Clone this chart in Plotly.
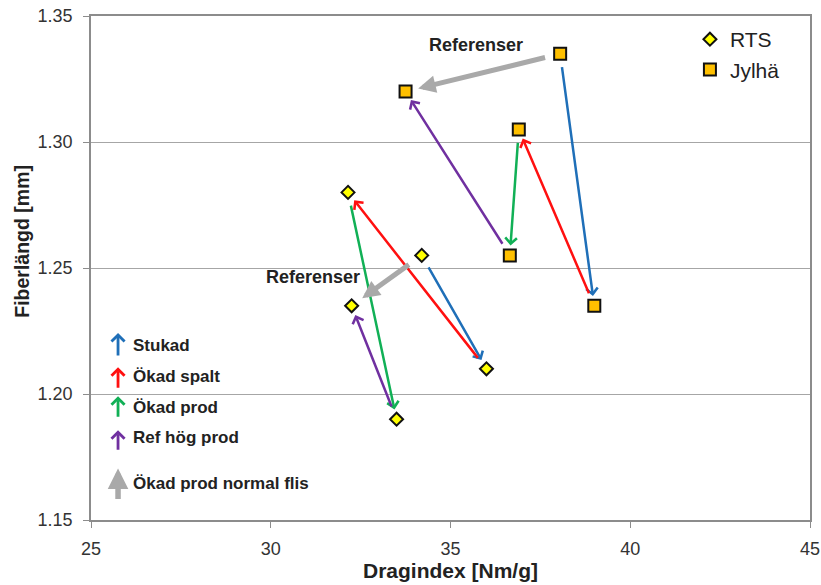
import plotly.graph_objects as go

# Measured points: Dragindex [Nm/g] vs fibre length [mm]
rts_x = [32.15, 34.2, 32.25, 36.0, 33.5]
rts_y = [1.28, 1.255, 1.235, 1.21, 1.19]
jyl_x = [38.05, 33.75, 36.9, 36.65, 39.0]
jyl_y = [1.335, 1.32, 1.305, 1.255, 1.235]

# Process changes, as (from index, to index) within each series
change_names = ["Stukad", "Ökad spalt", "Ökad prod", "Ref hög prod", "Ökad prod normal flis"]
change_colors = ["#1F6FB8", "#FF1010", "#11B056", "#7030A0", "#A9A9A9"]
rts_moves = [(1, 3), (3, 0), (0, 4), (4, 2), (1, 2)]
jyl_moves = [(0, 4), (4, 2), (2, 3), (3, 1), (0, 1)]

x_ticks = [25, 30, 35, 40, 45]
y_ticks = [1.15, 1.20, 1.25, 1.30, 1.35]

FONT = "Liberation Sans, Arial, sans-serif"

fig = go.Figure()

fig.add_trace(go.Scatter(
    x=rts_x, y=rts_y, mode="markers", name="RTS", legendgroup="a",
    marker=dict(symbol="diamond", size=10, color="#FFFF00",
                line=dict(color="#111111", width=2)),
))
fig.add_trace(go.Scatter(
    x=jyl_x, y=jyl_y, mode="markers", name="Jylhä", legendgroup="b",
    marker=dict(symbol="square", size=12, color="#FFC000",
                line=dict(color="#111111", width=2)),
))

annotations = []


def add_moves(xs, ys, moves):
    for k, (i, j) in enumerate(moves):
        gray = k == 4
        annotations.append(dict(
            x=xs[j], y=ys[j], ax=xs[i], ay=ys[i],
            xref="x", yref="y", axref="x", ayref="y",
            text="", showarrow=True,
            arrowcolor=change_colors[k],
            arrowwidth=5 if gray else 2.5,
            arrowhead=2 if gray else 4,
            arrowsize=0.7 if gray else 0.9,
            standoff=13 if gray else 10,
            startstandoff=14 if gray else 12,
        ))


add_moves(rts_x, rts_y, rts_moves)
add_moves(jyl_x, jyl_y, jyl_moves)

# Labels for the reference moves
annotations.append(dict(x=35.7, y=1.3385, xref="x", yref="y", text="<b>Referenser</b>",
                        showarrow=False, font=dict(family=FONT, size=18, color="#222222")))
annotations.append(dict(x=31.18, y=1.2465, xref="x", yref="y", text="<b>Referenser</b>",
                        showarrow=False, font=dict(family=FONT, size=18, color="#222222")))

# Key for the arrow colours
key_tip_y = [0.371, 0.303, 0.2455, 0.178, 0.1024]
key_tail = [24, 22, 22, 21, 32]
key_text_y = [0.347, 0.285, 0.2237, 0.164, 0.0726]
for k, name in enumerate(change_names):
    gray = k == 4
    annotations.append(dict(
        x=0.0376, y=key_tip_y[k], xref="paper", yref="paper",
        ax=0, ay=key_tail[k], text="", showarrow=True,
        arrowcolor=change_colors[k],
        arrowwidth=5.5 if gray else 2.8,
        arrowhead=2 if gray else 4,
        arrowsize=0.75 if gray else 0.9,
    ))
    annotations.append(dict(
        x=0.056, y=key_text_y[k], xref="paper", yref="paper",
        xanchor="left", yanchor="middle", text=f"<b>{name}</b>",
        showarrow=False, font=dict(family=FONT, size=17, color="#222222"),
    ))

# Vertical axis title
annotations.append(dict(
    x=-0.096, y=0.554, xref="paper", yref="paper", textangle=-90,
    xanchor="center", yanchor="middle",
    text="<b>Fiberlängd [mm]</b>", showarrow=False,
    font=dict(family=FONT, size=19.5, color="#222222"),
))

fig.update_layout(
    width=821, height=585,
    margin=dict(l=91, r=11, t=16, b=65, autoexpand=False),
    paper_bgcolor="white", plot_bgcolor="white",
    annotations=annotations,
    showlegend=True,
    legend=dict(x=0.833, y=0.994, xanchor="left", yanchor="top",
                font=dict(family=FONT, size=21, color="#222222"),
                bgcolor="rgba(0,0,0,0)", tracegroupgap=0, itemwidth=30),
    xaxis=dict(
        range=[25, 45], tickvals=x_ticks, ticktext=[str(v) for v in x_ticks],
        showgrid=False, zeroline=False,
        showline=True, linecolor="#8C8C8C", linewidth=1.5, mirror=True,
        ticks="outside", ticklen=6, tickcolor="#8C8C8C", ticklabelstandoff=6,
        tickfont=dict(family=FONT, size=18, color="#333333"),
        title=dict(text="<b>Dragindex [Nm/g]</b>", standoff=4,
                   font=dict(family=FONT, size=21, color="#222222")),
    ),
    yaxis=dict(
        range=[1.15, 1.35], tickvals=y_ticks, ticktext=[f"{v:.2f}" for v in y_ticks],
        showgrid=True, gridcolor="#A6A6A6", gridwidth=1.3, zeroline=False,
        showline=True, linecolor="#8C8C8C", linewidth=1.5, mirror=True,
        ticks="outside", ticklen=6, tickcolor="#8C8C8C", ticklabelstandoff=7,
        tickfont=dict(family=FONT, size=18, color="#333333"),
    ),
)

fig.write_html("out.html")
